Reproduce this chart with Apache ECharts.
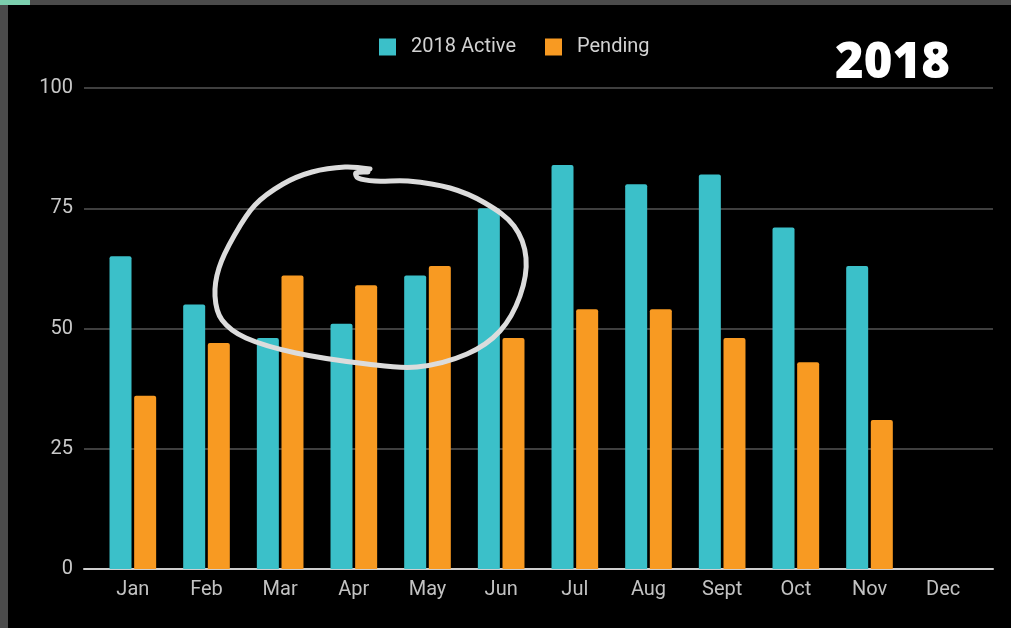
<!DOCTYPE html>
<html>
<head>
<meta charset="utf-8">
<script src="https://cdn.jsdelivr.net/npm/echarts@6/dist/echarts.min.js"></script>
<style>
  html, body { margin: 0; padding: 0; background: #000; }
  #chart { width: 1011px; height: 628px; }
</style>
</head>
<body>
<div id="chart"></div>
<script>
const months = ["Jan", "Feb", "Mar", "Apr", "May", "Jun", "Jul", "Aug", "Sept", "Oct", "Nov", "Dec"];
const activeValues = [65, 55, 48, 51, 61, 75, 84, 80, 82, 71, 63, null];
const pendingValues = [36, 47, 61, 59, 63, 48, 54, 54, 48, 43, 31, null];
const yTicks = [0, 25, 50, 75, 100];

// hand drawn loop around Mar-May (annotation, not data)
const loopPoints = [
  [370, 169], [345, 167], [312, 172], [283, 184], [255, 205], [234, 236],
  [219, 268], [215, 296], [222, 320], [246, 338], [296, 353], [367, 364],
  [417, 367], [467, 354], [500, 331], [520, 296], [526, 258], [514, 226],
  [485, 203], [450, 188], [408, 181], [375, 181], [358, 178], [356, 173], [368, 172]
];

const chart = echarts.init(document.getElementById("chart"));

chart.setOption({
  backgroundColor: "#000",
  animation: false,
  textStyle: { fontFamily: "Roboto" },
  legend: {
    top: 37,
    left: 379,
    padding: 0,
    itemWidth: 17,
    itemHeight: 17,
    itemGap: 29,
    icon: "rect",
    textStyle: { color: "#d2d2d2", fontSize: 20, padding: [0, 0, 0, 10] },
    data: ["2018 Active", "Pending"]
  },
  grid: [
    { left: 84, right: 18, top: 88, bottom: 59 },
    { left: 96, right: 31, top: 88, bottom: 59 }
  ],
  xAxis: [
    {
      gridIndex: 0, type: "value", min: 0, max: 1,
      axisLine: { show: true, lineStyle: { color: "#cfcfcf", width: 2 } },
      axisTick: { show: false }, axisLabel: { show: false }, splitLine: { show: false }
    },
    {
      gridIndex: 1, type: "category", data: months,
      axisLine: { show: false }, axisTick: { show: false },
      axisLabel: { color: "#c2c2c2", fontSize: 20, margin: 11 }
    }
  ],
  yAxis: [
    {
      gridIndex: 0, type: "value", min: yTicks[0], max: yTicks[yTicks.length - 1], interval: 25,
      axisLine: { show: false }, axisTick: { show: false },
      axisLabel: { color: "#c8c8c8", fontSize: 20, margin: 11 },
      splitLine: { lineStyle: { color: "#555", width: 1.5 } }
    },
    {
      gridIndex: 1, type: "value", min: 0, max: 100, show: false,
      splitLine: { show: false }
    }
  ],
  series: [
    {
      name: "2018 Active", type: "bar", xAxisIndex: 1, yAxisIndex: 1,
      data: activeValues, barWidth: 22, barGap: "12%",
      itemStyle: { color: "#3bc0c9", borderRadius: [2, 2, 0, 0] }
    },
    {
      name: "Pending", type: "bar", xAxisIndex: 1, yAxisIndex: 1,
      data: pendingValues, barWidth: 22,
      itemStyle: { color: "#f89a22", borderRadius: [2, 2, 0, 0] }
    }
  ],
  graphic: [
    // grey frame at top/left
    { type: "rect", shape: { x: 0, y: 0, width: 1011, height: 5 }, style: { fill: "#4b4b4b" }, z: 100 },
    { type: "rect", shape: { x: 0, y: 0, width: 8, height: 628 }, style: { fill: "#4b4b4b" }, z: 100 },
    { type: "rect", shape: { x: 0, y: 0, width: 30, height: 5 }, style: { fill: "#7ccfae" }, z: 101 },
    {
      type: "text", left: 835, top: 40, z: 100,
      style: { text: "2018", fill: "#fff", font: "800 49px 'Open Sans'" }
    },
    {
      type: "polyline", z: 100,
      shape: { points: loopPoints, smooth: 0.35 },
      style: { stroke: "#dcdcdc", lineWidth: 5, fill: null, lineCap: "round", lineJoin: "round" }
    }
  ]
});
</script>
</body>
</html>
